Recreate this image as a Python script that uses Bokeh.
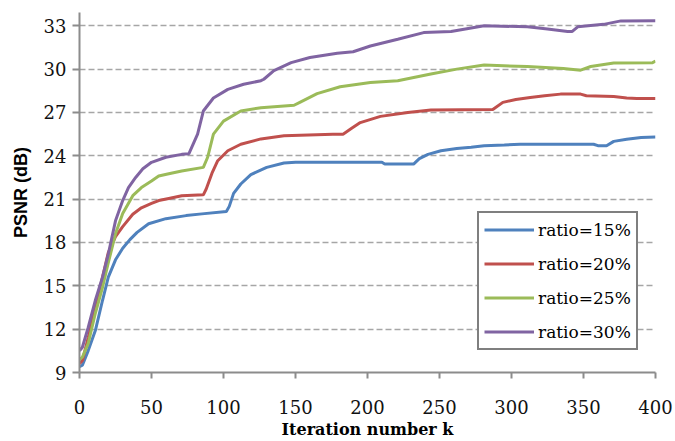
from bokeh.plotting import figure
from bokeh.models import Range1d, FixedTicker
from bokeh.embed import file_html
from bokeh.resources import INLINE

# ---- data ----
k15 = [0, 2, 6, 11, 16, 20, 25, 30, 35, 40, 48, 60, 74, 85, 102, 104, 107, 112, 119, 130, 142, 150, 180, 210, 212, 232, 236, 242, 251, 262, 272, 281, 295, 306, 330, 357, 360, 366, 371, 380, 390, 400]
v15 = [9.4, 9.5, 10.5, 11.9, 14.0, 15.6, 16.8, 17.6, 18.2, 18.7, 19.3, 19.65, 19.86, 19.98, 20.15, 20.5, 21.4, 22.05, 22.7, 23.2, 23.5, 23.55, 23.55, 23.55, 23.43, 23.43, 23.8, 24.1, 24.35, 24.5, 24.6, 24.7, 24.75, 24.8, 24.8, 24.8, 24.7, 24.7, 25.0, 25.15, 25.27, 25.3]

k20 = [0, 2, 6, 11, 16, 20, 25, 30, 37, 43, 50, 55, 62, 71, 86, 88, 92, 96, 103, 112, 126, 142, 176, 183, 189, 195, 209, 228, 244, 287, 294, 303, 313, 323, 334, 348, 352, 371, 380, 387, 400]
v20 = [9.6, 9.83, 11.4, 13.5, 15.6, 17.3, 18.4, 19.1, 19.95, 20.4, 20.7, 20.9, 21.05, 21.24, 21.3, 21.7, 22.8, 23.66, 24.35, 24.8, 25.17, 25.39, 25.5, 25.5, 25.9, 26.3, 26.73, 27.0, 27.17, 27.2, 27.7, 27.9, 28.04, 28.15, 28.27, 28.27, 28.16, 28.1, 28.0, 27.97, 27.97]

k25 = [0, 2, 6, 11, 16, 20, 25, 30, 37, 43, 50, 55, 62, 71, 86, 89, 93, 100, 112, 126, 149, 153, 165, 181, 202, 221, 244, 262, 281, 311, 336, 348, 355, 371, 398, 400]
v25 = [9.9, 10.06, 11.0, 13.1, 14.9, 16.6, 18.6, 20.0, 21.24, 21.8, 22.25, 22.6, 22.76, 22.95, 23.2, 23.9, 25.5, 26.4, 27.1, 27.33, 27.5, 27.7, 28.3, 28.78, 29.07, 29.2, 29.66, 30.0, 30.28, 30.18, 30.04, 29.93, 30.18, 30.42, 30.45, 30.55]

k30 = [0, 2, 6, 11, 16, 20, 25, 30, 34, 39, 44, 50, 60, 71, 76, 82, 86, 93, 103, 114, 126, 128, 135, 147, 160, 179, 190, 202, 221, 239, 258, 281, 311, 325, 339, 342, 346, 364, 376, 400]
v30 = [10.5, 10.75, 12.1, 14.0, 15.6, 17.2, 19.5, 20.9, 21.8, 22.5, 23.1, 23.55, 23.9, 24.1, 24.15, 25.5, 27.1, 28.0, 28.6, 28.95, 29.2, 29.3, 29.9, 30.45, 30.8, 31.1, 31.2, 31.6, 32.07, 32.53, 32.6, 33.0, 32.93, 32.77, 32.6, 32.6, 32.93, 33.1, 33.34, 33.35]

series_names = ["ratio=15%", "ratio=20%", "ratio=25%", "ratio=30%"]
series_colors = ["#4F81BD", "#C0504D", "#9BBB59", "#8064A2"]
x_ticks = [0, 50, 100, 150, 200, 250, 300, 350, 400]
y_ticks = [9, 12, 15, 18, 21, 24, 27, 30, 33]

SERIF = "DejaVu Serif"

p = figure(width=675, height=441, output_backend="svg", toolbar_location=None,
           x_range=Range1d(0, 400), y_range=Range1d(9, 33.92),
           min_border_left=79, min_border_right=20, min_border_top=12, min_border_bottom=69)
p.outline_line_color = None
p.background_fill_color = "white"

for kk, vv, name, col in zip([k15, k20, k25, k30], [v15, v20, v25, v30], series_names, series_colors):
    p.line(kk, vv, line_width=3, color=col, legend_label=name)

axis_col = "#8c8c8c"
for ax in (p.xaxis[0], p.yaxis[0]):
    ax.axis_line_color = axis_col
    ax.axis_line_width = 2
    ax.major_tick_line_color = axis_col
    ax.major_tick_line_width = 2
    ax.major_tick_in = 0
    ax.minor_tick_line_color = None
    ax.major_label_text_font = SERIF
    ax.major_label_text_font_size = "18px"
    ax.major_label_text_color = "#111111"

p.xaxis[0].ticker = FixedTicker(ticks=x_ticks)
p.yaxis[0].ticker = FixedTicker(ticks=y_ticks)
p.xaxis[0].major_tick_out = 6
p.yaxis[0].major_tick_out = 7
p.xaxis[0].major_label_standoff = 21
p.yaxis[0].major_label_standoff = 6

p.yaxis[0].axis_label = "PSNR (dB)"
p.yaxis[0].axis_label_text_font = "Liberation Sans"
p.yaxis[0].axis_label_text_font_style = "bold"
p.yaxis[0].axis_label_text_font_size = "18px"
p.yaxis[0].axis_label_text_color = "black"
p.yaxis[0].axis_label_standoff = 10

p.xaxis[0].axis_label = "Iteration number k"
p.xaxis[0].axis_label_text_font = SERIF
p.xaxis[0].axis_label_text_font_style = "bold"
p.xaxis[0].axis_label_text_font_size = "16px"
p.xaxis[0].axis_label_text_color = "black"
p.xaxis[0].axis_label_standoff = 3

p.xgrid.grid_line_color = None
p.ygrid.ticker = FixedTicker(ticks=y_ticks)
p.ygrid.grid_line_color = "#a6a6a6"
p.ygrid.grid_line_width = 1.5
p.ygrid.grid_line_dash = "6 3"

leg = p.legend[0]
leg.location = (398, 22)
leg.border_line_color = "black"
leg.border_line_width = 2
leg.background_fill_color = "white"
leg.background_fill_alpha = 1
leg.label_text_font = SERIF
leg.label_text_font_size = "17px"
leg.label_text_color = "black"
leg.glyph_width = 50
leg.glyph_height = 23
leg.label_height = 23
leg.spacing = 11
leg.padding = 5
leg.margin = 0
leg.label_standoff = 4

open("out.html", "w").write(file_html(p, INLINE))
